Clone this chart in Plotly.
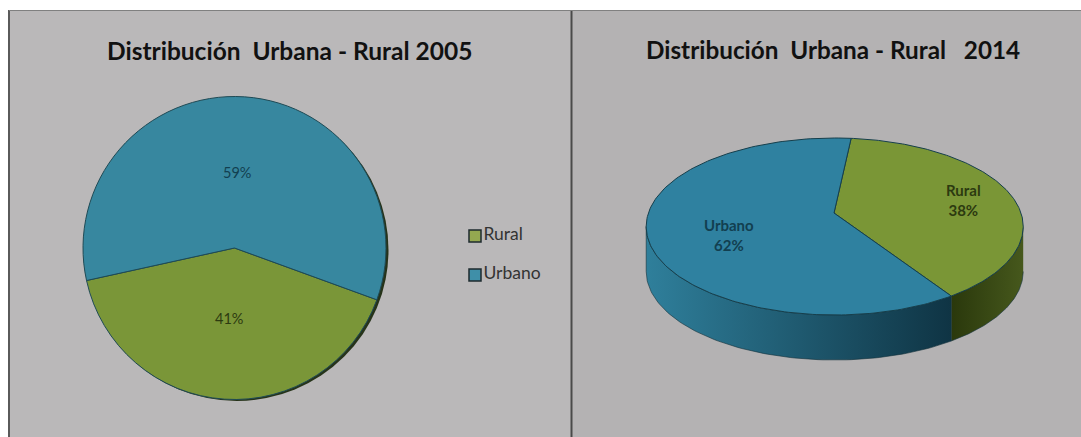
import numpy as np
import plotly.graph_objects as go

# Data
categories = ["Rural", "Urbano"]
values_2005 = [41, 59]
values_2014 = [38, 62]
title_2005 = "Distribución  Urbana - Rural 2005"
title_2014 = "Distribución  Urbana - Rural   2014"

W, H = 1081, 437
BG_L, BG_R = "#bab8b9", "#b4b2b3"
RURAL, URBANO = "#7a9638", "#33829f"
FONT = "Lato"

# Tilted pie geometry (pixels on the hidden axes)
CX, CY, RX, RY = 834.7, 226.5, 188.5, 88.5
TIP_X, TIP_Y = 834, 213
DEPTH = 45
START = 5.0

# Flat pie geometry
PCX, PCY, PR = 234.5, 248, 151.5


def ell(deg, dy=0.0):
    t = np.radians(np.asarray(deg, dtype=float))
    return CX + RX * np.sin(t), CY - RY * np.cos(t) + dy


fig = go.Figure()

# 2005: flat pie
fig.add_trace(go.Pie(
    labels=categories, values=values_2005, sort=False, direction="clockwise",
    rotation=110, textinfo="none", hoverinfo="label+percent", showlegend=False,
    marker=dict(colors=[RURAL, "#37879f"], line=dict(color="#1f4a55", width=1)),
    domain=dict(x=[(PCX - PR) / W, (PCX + PR) / W],
                y=[1 - (PCY + PR) / H, 1 - (PCY - PR) / H]),
))

# 2014: tilted pie with side wall, slice angles come from the values
total = sum(values_2014)
a0 = START
a1 = a0 + 360 * values_2014[0] / total
a2 = a1 + 360 * values_2014[1] / total

# side walls (visible front half only: 90..270 deg); colours run left to right
side = [
    (categories[0], max(a0, 90), min(a1, 270), ("#2a380c", "#46581c")),
    (categories[1], max(a1, 90), min(a2, 270), ("#2f7f9b", "#0f3444")),
]
for name, s, e, (c_left, c_right) in side:
    th = np.linspace(s, e, 90)
    xt, yt = ell(th)
    xb, yb = ell(th[::-1], DEPTH)
    fig.add_trace(go.Scatter(
        x=np.r_[xt, xb], y=np.r_[yt, yb], mode="lines", fill="toself",
        line=dict(color="#12303a", width=0.6), showlegend=False, hoverinfo="skip",
        fillgradient=dict(type="horizontal",
                          colorscale=[[0, c_left], [1, c_right]]),
    ))

# top faces
for name, s, e, c in [(categories[0], a0, a1, "#7a9636"), (categories[1], a1, a2, "#2f81a0")]:
    th = np.linspace(s, e, 180)
    xt, yt = ell(th)
    fig.add_trace(go.Scatter(
        x=np.r_[TIP_X, xt, TIP_X], y=np.r_[TIP_Y, yt, TIP_Y], mode="lines",
        fill="toself", fillcolor=c, line=dict(color="#163f4c", width=1),
        name=name, showlegend=False, hoverinfo="name",
    ))

# Legend-style key
fig.add_trace(go.Scatter(
    x=[475, 475], y=[236, 275], mode="markers+text", text=categories,
    textposition="middle right",
    textfont=dict(family=FONT, size=17.5, color="#333333"),
    marker=dict(symbol="square", size=12, color=["#94a850", "#3f8fa8"],
                line=dict(color="#1e2a2e", width=1.5)),
    showlegend=False, hoverinfo="skip",
))

shapes = [
    dict(type="rect", xref="x", yref="y", x0=9, x1=571, y0=10, y1=H,
         fillcolor=BG_L, line_width=0, layer="below"),
    dict(type="rect", xref="x", yref="y", x0=571, x1=W, y0=10, y1=H,
         fillcolor=BG_R, line_width=0, layer="below"),
    # dark rim under the 2005 pie
    dict(type="circle", xref="x", yref="y", x0=85, x1=388.5, y0=99, y1=401,
         fillcolor="#26331a", line_width=0, layer="below"),
    dict(type="line", xref="x", yref="y", x0=9, x1=9, y0=10, y1=H,
         line=dict(color="#5a5a5a", width=2), layer="above"),
    dict(type="line", xref="x", yref="y", x0=571.5, x1=571.5, y0=10, y1=H,
         line=dict(color="#4a4a4a", width=2), layer="above"),
    dict(type="line", xref="x", yref="y", x0=9, x1=W, y0=10.5, y1=10.5,
         line=dict(color="#808080", width=1), layer="above"),
]


def note(x, y, text, size, color, bold=False):
    return dict(xref="x", yref="y", x=x, y=y, text=f"<b>{text}</b>" if bold else text,
                showarrow=False, align="center",
                font=dict(family=FONT, size=size, color=color))


annotations = [
    note(289, 50, title_2005, 24.5, "#111111", True),
    note(833, 49, title_2014, 24.3, "#111111", True),
    note(237, 172, f"{values_2005[1]}%", 14.5, "#123f50"),
    note(229, 318, f"{values_2005[0]}%", 14.5, "#2c3a10"),
    note(963, 200, f"{categories[0]}<br>{values_2014[0]}%", 15, "#2c3a10", True),
    note(729, 235, f"{categories[1]}<br>{values_2014[1]}%", 15, "#123f50", True),
]

fig.update_layout(
    width=W, height=H, margin=dict(l=0, r=0, t=0, b=0),
    paper_bgcolor="white", plot_bgcolor="rgba(0,0,0,0)",
    xaxis=dict(range=[0, W], visible=False, fixedrange=True),
    yaxis=dict(range=[H, 0], visible=False, fixedrange=True),
    shapes=shapes, annotations=annotations, showlegend=False,
)
fig.write_html("out.html", config=dict(displayModeBar=False),
               post_script="document.body.style.margin='0';")
